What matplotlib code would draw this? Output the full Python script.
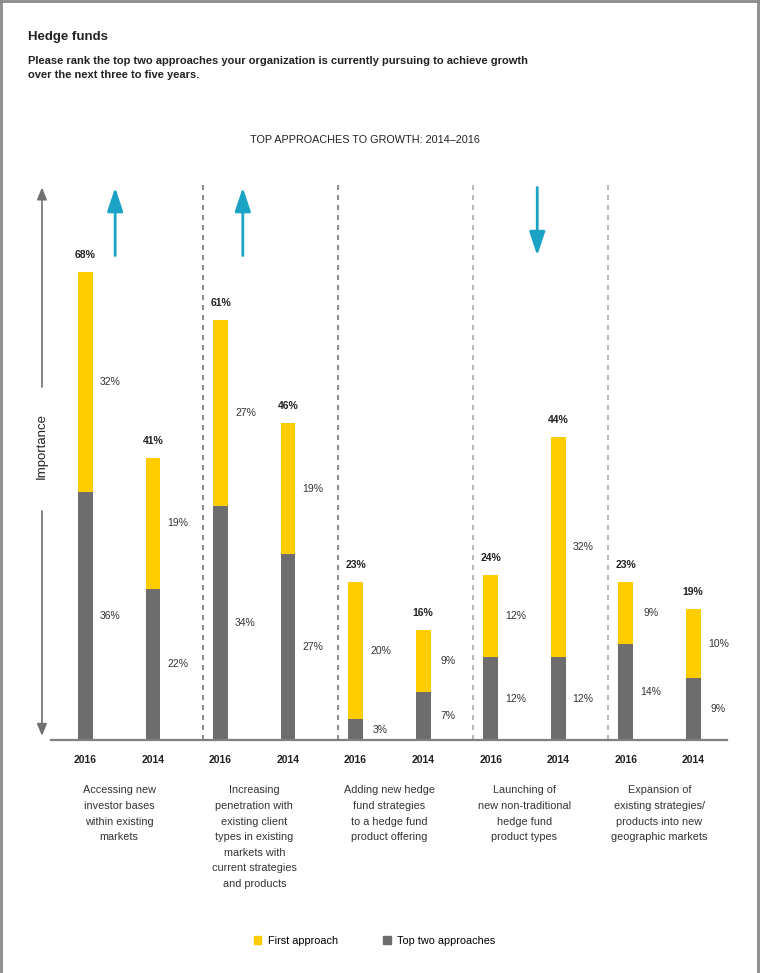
import matplotlib
matplotlib.use('Agg')
import numpy as np
import matplotlib.pyplot as plt
from matplotlib.patches import Patch
from matplotlib.lines import Line2D

plt.rcParams['font.family'] = ['Liberation Sans', 'DejaVu Sans']

# ---- data ----
categories = ['Accessing new\ninvestor bases\nwithin existing\nmarkets',
              'Increasing\npenetration with\nexisting client\ntypes in existing\nmarkets with\ncurrent strategies\nand products',
              'Adding new hedge\nfund strategies\nto a hedge fund\nproduct offering',
              'Launching of\nnew non-traditional\nhedge fund\nproduct types',
              'Expansion of\nexisting strategies/\nproducts into new\ngeographic markets']
years = ['2016', '2014']
first_approach = [32, 19, 27, 19, 20, 9, 12, 32, 9, 10]
top_two = [36, 22, 34, 27, 3, 7, 12, 12, 14, 9]
totals = [68, 41, 61, 46, 23, 16, 24, 44, 23, 19]
trend = ['up', 'up', None, 'down', None]

YELLOW = '#ffcc00'
GRAY = '#6d6d6d'
CYAN = '#1ba3c6'

fig = plt.figure(figsize=(7.6, 9.73), dpi=100)
ax = fig.add_axes([0.0671, 0.2395, 0.8895, 0.5869])

x = np.arange(len(totals))
ax.bar(x, top_two, width=0.22, color=GRAY)
ax.bar(x, first_approach, bottom=top_two, width=0.22, color=YELLOW)

ax.set_xlim(-0.51, 9.5)
ax.set_ylim(0, 83)
for s in ['top', 'left', 'right']:
    ax.spines[s].set_visible(False)
ax.spines['bottom'].set_color('#808080')
ax.spines['bottom'].set_linewidth(1.6)
ax.set_xticks([])
ax.set_yticks([])

# value labels
for i in range(len(totals)):
    ax.text(x[i], totals[i] + 2.5, f'{totals[i]}%', ha='center', va='center',
            fontsize=7.5, fontweight='bold', color='#222222')
    ax.text(x[i] + 0.37, top_two[i] / 2, f'{top_two[i]}%', ha='center', va='center',
            fontsize=7.5, color='#333333')
    ax.text(x[i] + 0.37, top_two[i] + first_approach[i] / 2, f'{first_approach[i]}%',
            ha='center', va='center', fontsize=7.5, color='#333333')
    ax.text(x[i], -2.9, years[i % 2], ha='center', va='center', fontsize=7.5,
            fontweight='bold', color='#222222', clip_on=False)

# category labels
for g, cat in enumerate(categories):
    ax.text(2 * g + 0.5, -6.6, cat, ha='center', va='top', fontsize=7.8,
            linespacing=1.7, color='#333333', clip_on=False)

# group separators
for g in range(1, 5):
    col = '#777777' if g < 3 else '#aaaaaa'
    ax.vlines(2 * g - 0.26, 0, 81.4, colors=col, linestyles=(0, (3, 3)), lw=1.2)

# trend arrows
for g, t in enumerate(trend):
    if t is None:
        continue
    xa = [0.44, 2.33, None, 6.69, None][g]
    if t == 'up':
        start, end = 70, 80.7
    else:
        start, end = 80.7, 70
    ax.annotate('', xy=(xa, end), xytext=(xa, start),
                arrowprops=dict(arrowstyle='-|>,head_length=0.9,head_width=0.3',
                                color=CYAN, lw=2, mutation_scale=16))

# importance axis
xi = -0.644
ax.annotate('', xy=(xi, 80.7), xytext=(xi, 50.9), annotation_clip=False,
            arrowprops=dict(arrowstyle='-|>,head_length=0.6,head_width=0.25',
                            color='#707070', lw=1.2, mutation_scale=12))
ax.annotate('', xy=(xi, 0.2), xytext=(xi, 33.7), annotation_clip=False,
            arrowprops=dict(arrowstyle='-|>,head_length=0.6,head_width=0.25',
                            color='#707070', lw=1.2, mutation_scale=12))
ax.text(xi, 42.7, 'Importance', rotation=90, ha='center', va='center',
        fontsize=9.5, color='#222222', clip_on=False)

# titles
fig.text(28 / 760, 1 - 37 / 973, 'Hedge funds', fontsize=9.5, fontweight='bold',
         va='center', ha='left', color='#222222')
fig.text(28 / 760, 1 - 56 / 973,
         'Please rank the top two approaches your organization is currently pursuing to achieve growth\n'
         'over the next three to five years.',
         fontsize=8, fontweight='bold', va='top', ha='left', linespacing=1.45, color='#222222')
fig.text(365 / 760, 1 - 140 / 973, 'TOP APPROACHES TO GROWTH: 2014\u20132016',
         fontsize=7.8, ha='center', va='center', color='#222222')

# legend
handles = [Patch(color=YELLOW, label='First approach'),
           Patch(color=GRAY, label='Top two approaches')]
fig.legend(handles=handles, loc='center', bbox_to_anchor=(0.493, 1 - 941 / 973), ncol=2,
           frameon=False, handlelength=0.7, handleheight=0.7, columnspacing=4.2,
           handletextpad=0.6, fontsize=7.8)

# frame border
for xs, ys in [([0.001, 0.001], [0, 1]), ([0, 1], [0.999, 0.999]), ([0.998, 0.998], [0, 1])]:
    fig.add_artist(Line2D(xs, ys, transform=fig.transFigure, color='#8a8a8a', lw=2))

fig.savefig('out.png', dpi=100)
